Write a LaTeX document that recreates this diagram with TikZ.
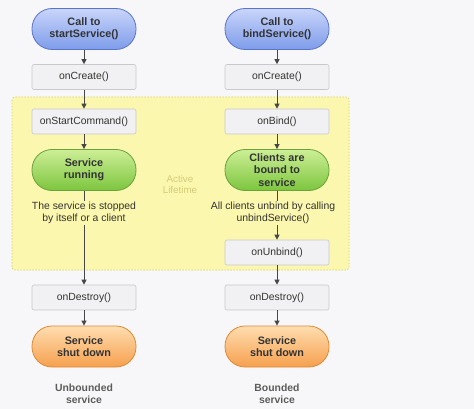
\documentclass[tikz,border=0pt]{standalone}
\usepackage{fontspec}
\setmainfont{Liberation Sans}
\usetikzlibrary{arrows.meta}
\definecolor{bg}{HTML}{F7F7F9}
\definecolor{txt}{HTML}{333333}
\definecolor{bluetop}{HTML}{C9D5FA}
\definecolor{bluebot}{HTML}{7E9CEA}
\definecolor{blueline}{HTML}{5A74C8}
\definecolor{greentop}{HTML}{CDEE96}
\definecolor{greenbot}{HTML}{7CC63E}
\definecolor{greenline}{HTML}{6AA13E}
\definecolor{orangetop}{HTML}{FFDDB0}
\definecolor{orangebot}{HTML}{F6A04E}
\definecolor{orangeline}{HTML}{DD8A36}
\definecolor{boxfill}{HTML}{F1F1F3}
\definecolor{boxline}{HTML}{C9C9CD}
\definecolor{yfill}{HTML}{FBF7AE}
\definecolor{yline}{HTML}{D8D27A}
\definecolor{ytext}{HTML}{D2CB78}
\tikzset{
  x=1pt, y=-1pt,
  every node/.style={font=\fontsize{10.4}{12}\selectfont, text=txt, align=center},
  pill/.style={rounded corners=20pt, minimum width=104pt, minimum height=41pt, inner sep=0pt, line width=0.8pt, font=\bfseries\fontsize{10.8}{12.2}\selectfont},
  bluepill/.style={pill, draw=blueline, top color=bluetop, bottom color=bluebot},
  greenpill/.style={pill, draw=greenline, top color=greentop, bottom color=greenbot},
  orangepill/.style={pill, draw=orangeline, top color=orangetop, bottom color=orangebot},
  methodbox/.style={rounded corners=2pt, minimum width=104pt, minimum height=25pt, inner sep=0pt, draw=boxline, fill=boxfill, line width=0.6pt},
  note/.style={inner sep=1pt},
  caption/.style={font=\bfseries\fontsize{10.4}{12}\selectfont, text=txt!80},
  conn/.style={draw=txt!90, line width=0.8pt, -{Triangle[length=5pt,width=5pt]}},
  plain/.style={draw=txt!90, line width=0.8pt}
}
\begin{document}
\begin{tikzpicture}
\useasboundingbox (0,0) rectangle (474,409);
\fill[bg] (0,0) rectangle (474,409);
\draw[yline, fill=yfill, dashed, dash pattern=on 1.5pt off 1.5pt, line width=0.7pt, rounded corners=3pt] (12,97) rectangle (349,270);
\node[text=ytext, font=\fontsize{9.8}{11}\selectfont] (al) at (180,184) {Active\\Lifetime};

% left column
\node[bluepill] (ls) at (84,29) {Call to\\startService()};
\node[methodbox] (lc) at (84,77) {onCreate()};
\node[methodbox] (lsc) at (84,121.5) {onStartCommand()};
\node[greenpill] (lr) at (84,170) {Service\\running};
\node[note] (lt) at (84,213) {The service is stopped\\by itself or a client};
\node[methodbox] (ld) at (84,297.5) {onDestroy()};
\node[orangepill] (lx) at (84,346.5) {Service\\shut down};
\node[caption] (lu) at (84,394) {Unbounded\\service};

% right column
\node[bluepill] (rs) at (277,29) {Call to\\bindService()};
\node[methodbox] (rc) at (277,77) {onCreate()};
\node[methodbox] (rb) at (277,121.5) {onBind()};
\node[greenpill] (rr) at (277,170) {Clients are\\bound to\\service};
\node[note] (rt) at (273,213) {All clients unbind by calling\\unbindService()};
\node[methodbox] (ru) at (277,252.5) {onUnbind()};
\node[methodbox] (rd) at (277,297.5) {onDestroy()};
\node[orangepill] (rx) at (277,346.5) {Service\\shut down};
\node[caption] (rbs) at (277,394) {Bounded\\service};

% connectors left
\draw[conn] (ls) -- (lc);
\draw[conn] (lc) -- (lsc);
\draw[conn] (lsc) -- (lr);
\draw[plain] (lr.south) -- (lr.south |- lt.north);
\draw[conn] (lr.south |- lt.south) -- (ld);
\draw[conn] (ld) -- (lx);

% connectors right
\draw[conn] (rs) -- (rc);
\draw[conn] (rc) -- (rb);
\draw[conn] (rb) -- (rr);
\draw[plain] (rr.south) -- (rr.south |- rt.north);
\draw[conn] (rr.south |- rt.south) -- (ru);
\draw[conn] (ru) -- (rd);
\draw[conn] (rd) -- (rx);
\end{tikzpicture}
\end{document}
